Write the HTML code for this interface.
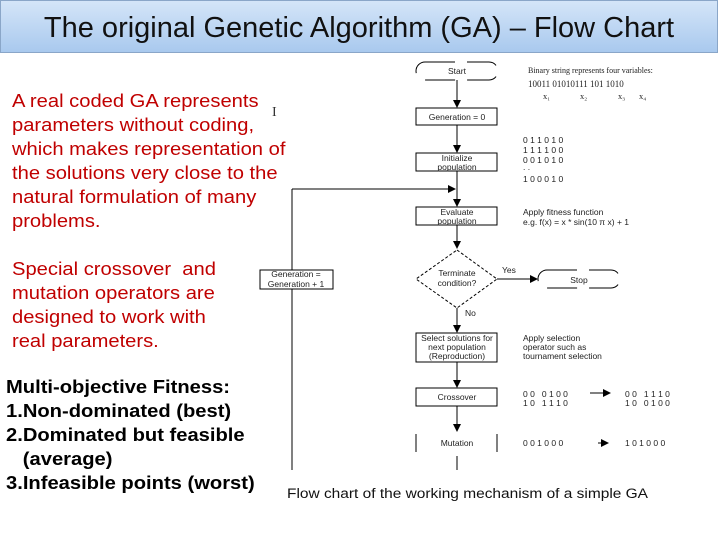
<!DOCTYPE html>
<html><head><style>
body{margin:0;width:720px;height:540px;background:#fff;position:relative;overflow:hidden;font-family:"Liberation Sans",sans-serif}
#title{position:absolute;left:0;top:0;width:716px;height:51px;border:1px solid #8aa6c8;background:linear-gradient(#d4e5f8,#a9c9ee);text-align:center;font-size:29px;line-height:54px;color:#111}
.t{position:absolute;left:12px;font-size:18px;line-height:24px;color:#c00000;transform:scaleX(1.12);transform-origin:0 0;white-space:nowrap}
.b{position:absolute;left:6px;font-size:18px;line-height:24px;font-weight:bold;color:#000;transform:scaleX(1.12);transform-origin:0 0;white-space:nowrap}
svg text{font-family:"Liberation Sans",sans-serif;font-size:8.5px;fill:#222}
</style></head><body>
<div id="title">The original Genetic Algorithm (GA) – Flow Chart</div>
<div class="t" style="top:89px">A real coded GA represents<br>parameters without coding,<br>which makes representation of<br>the solutions very close to the<br>natural formulation of many<br>problems.</div>
<div class="t" style="top:257px">Special crossover&nbsp; and<br>mutation operators are<br>designed to work with<br>real parameters.</div>
<div class="b" style="top:375px">Multi-objective Fitness:<br>1.Non-dominated (best)<br>2.Dominated but feasible<br>&nbsp;&nbsp;&nbsp;(average)<br>3.Infeasible points (worst)</div>
<svg width="720" height="540" style="position:absolute;left:0;top:0">
<defs><marker id="a" markerWidth="8" markerHeight="8" refX="7" refY="4" orient="auto"><path d="M0,0L8,4L0,8z" fill="#000"/></marker></defs>
<g stroke="#000" stroke-width="1" fill="none">
<rect x="416" y="62" width="82" height="18" rx="9" stroke-dasharray="30,12"/>
<line x1="457" y1="80" x2="457" y2="107" marker-end="url(#a)"/>
<rect x="416" y="108" width="81" height="17"/>
<line x1="457" y1="125" x2="457" y2="152" marker-end="url(#a)"/>
<rect x="416" y="153" width="81" height="18"/>
<line x1="457" y1="171" x2="457" y2="206" marker-end="url(#a)"/>
<rect x="416" y="207" width="81" height="18"/>
<line x1="457" y1="225" x2="457" y2="248" marker-end="url(#a)"/>
<path d="M457,250L497,279L457,308L416,279z" stroke-dasharray="3,2"/>
<line x1="497" y1="279" x2="537" y2="279" marker-end="url(#a)"/>
<rect x="538" y="270" width="82" height="18" rx="9" stroke-dasharray="30,12"/>
<line x1="457" y1="308" x2="457" y2="332" marker-end="url(#a)"/>
<rect x="416" y="333" width="81" height="29"/>
<line x1="457" y1="362" x2="457" y2="387" marker-end="url(#a)"/>
<rect x="416" y="388" width="81" height="18"/>
<line x1="457" y1="406" x2="457" y2="431" marker-end="url(#a)"/>
<line x1="416" y1="434" x2="416" y2="452"/><line x1="497" y1="434" x2="497" y2="452"/>
<line x1="457" y1="456" x2="457" y2="470"/>
<line x1="292" y1="470" x2="292" y2="189"/>
<line x1="292" y1="189" x2="455" y2="189" marker-end="url(#a)"/>
<rect x="260" y="270" width="73" height="19" fill="#fff"/>
<line x1="590" y1="393" x2="610" y2="393" marker-end="url(#a)"/>
<line x1="598" y1="443" x2="608" y2="443" marker-end="url(#a)"/>
</g>
<g text-anchor="middle">
<text x="457" y="74">Start</text><text x="457" y="120">Generation = 0</text>
<text x="457" y="161">Initialize</text><text x="457" y="170">population</text>
<text x="457" y="215">Evaluate</text><text x="457" y="224">population</text>
<text x="457" y="276">Terminate</text><text x="457" y="286">condition?</text>
<text x="579" y="283">Stop</text>
<text x="457" y="341">Select solutions for</text><text x="457" y="350">next population</text><text x="457" y="359">(Reproduction)</text>
<text x="457" y="400">Crossover</text><text x="457" y="446">Mutation</text>
<text x="296" y="277">Generation =</text><text x="296" y="287">Generation + 1</text>
</g>
<text x="502" y="273">Yes</text><text x="465" y="316">No</text>
<text x="528" y="73" style="font-size:8px;font-family:'Liberation Serif',serif">Binary string represents four variables:</text>
<text x="528" y="87" style="font-size:9px;font-family:'Liberation Serif',serif">10011 01010111 101 1010</text>
<text x="543" y="99" style="font-family:'Liberation Serif',serif">x₁</text><text x="580" y="99" style="font-family:'Liberation Serif',serif">x₂</text><text x="618" y="99" style="font-family:'Liberation Serif',serif">x₃</text><text x="639" y="99" style="font-family:'Liberation Serif',serif">x₄</text>
<text x="523" y="143">0 1 1 0 1 0</text><text x="523" y="153">1 1 1 1 0 0</text><text x="523" y="163">0 0 1 0 1 0</text><text x="523" y="170">. .</text><text x="523" y="182">1 0 0 0 1 0</text>
<text x="523" y="215">Apply fitness function</text><text x="523" y="225">e.g. f(x) = x * sin(10 π x) + 1</text>
<text x="523" y="341">Apply selection</text><text x="523" y="350">operator such as</text><text x="523" y="359">tournament selection</text>
<text x="523" y="397">0 0&nbsp;&nbsp; 0 1 0 0</text><text x="523" y="406">1 0&nbsp;&nbsp; 1 1 1 0</text>
<text x="625" y="397">0 0&nbsp;&nbsp; 1 1 1 0</text><text x="625" y="406">1 0&nbsp;&nbsp; 0 1 0 0</text>
<text x="523" y="446">0 0 1 0 0 0</text><text x="625" y="446">1 0 1 0 0 0</text>
<text x="287" y="498" textLength="361" lengthAdjust="spacingAndGlyphs" style="font-size:13.5px;fill:#111">Flow chart of the working mechanism of a simple GA</text>
<text x="272" y="116" style="font-size:14px;fill:#333;font-family:'Liberation Serif',serif">I</text>
</svg>
</body></html>
